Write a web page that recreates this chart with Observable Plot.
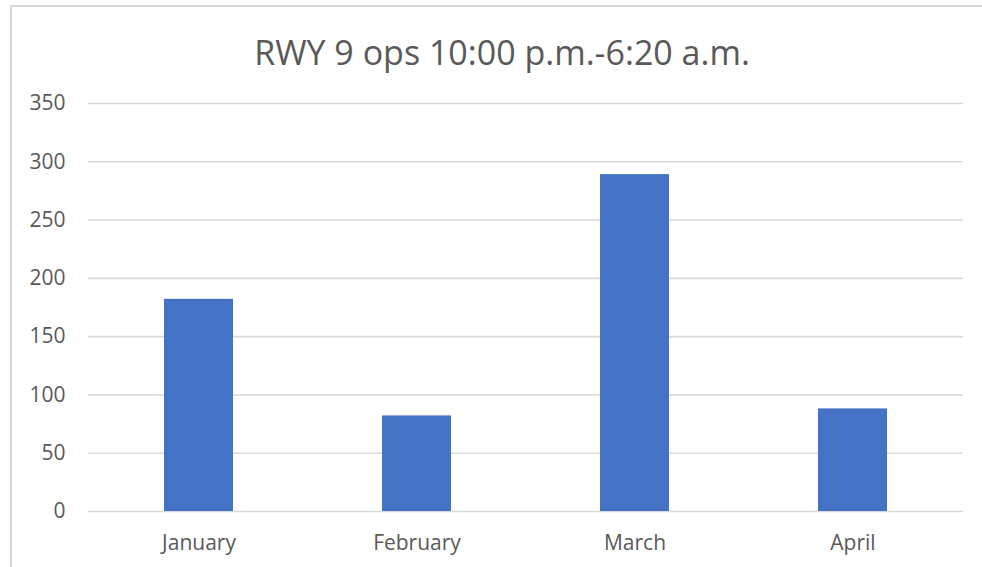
<!DOCTYPE html>
<html>
<head>
<meta charset="utf-8">
<script src="https://cdn.jsdelivr.net/npm/d3@7"></script>
<script src="https://cdn.jsdelivr.net/npm/@observablehq/plot@0.6"></script>
<style>
  html, body { margin: 0; padding: 0; background: #fff; }
  #wrap { position: relative; width: 982px; height: 567px; overflow: hidden; font-family: "Open Sans", sans-serif; }
  #frame { position: absolute; left: 10px; top: 5px; width: 1000px; height: 600px; border-left: 2px solid #d9d9d9; border-top: 2px solid #d9d9d9; box-sizing: border-box; }
  #title { position: absolute; left: 502px; top: 35px; transform: translateX(-50%); white-space: nowrap; font-size: 34px; line-height: 34px; color: #595959; }
  #chart { position: absolute; left: 0; top: 0; }
</style>
</head>
<body>
<div id="wrap">
  <div id="frame"></div>
  <div id="chart"></div>
  <div id="title">RWY 9 ops 10:00 p.m.-6:20 a.m.</div>
</div>
<script>
const months = ["January", "February", "March", "April"];
const ops = [182, 82, 289, 88];
const yTicks = [0, 50, 100, 150, 200, 250, 300, 350];

const data = months.map((m, i) => ({month: m, value: ops[i]}));

const chart = Plot.plot({
  width: 982,
  height: 567,
  marginLeft: 88,
  marginRight: 19,
  marginTop: 103,
  marginBottom: 56,
  style: {fontFamily: "Open Sans, sans-serif", fontSize: "21px", color: "#595959", background: "transparent"},
  x: {domain: months, paddingInner: 0.684, paddingOuter: 0.342, label: null},
  y: {domain: [0, 350], label: null},
  marks: [
    Plot.gridY(yTicks, {stroke: "#d9d9d9", strokeOpacity: 1, strokeWidth: 1.6}),
    Plot.barY(data, {x: "month", y: "value", fill: "#4472C4"}),
    Plot.axisY(yTicks, {tickSize: 0, tickPadding: 23, label: null, fill: "#595959", fontSize: 21}),
    Plot.axisX({tickSize: 0, tickPadding: 24, label: null, fill: "#595959", fontSize: 21})
  ]
});
document.getElementById("chart").appendChild(chart);
</script>
</body>
</html>
